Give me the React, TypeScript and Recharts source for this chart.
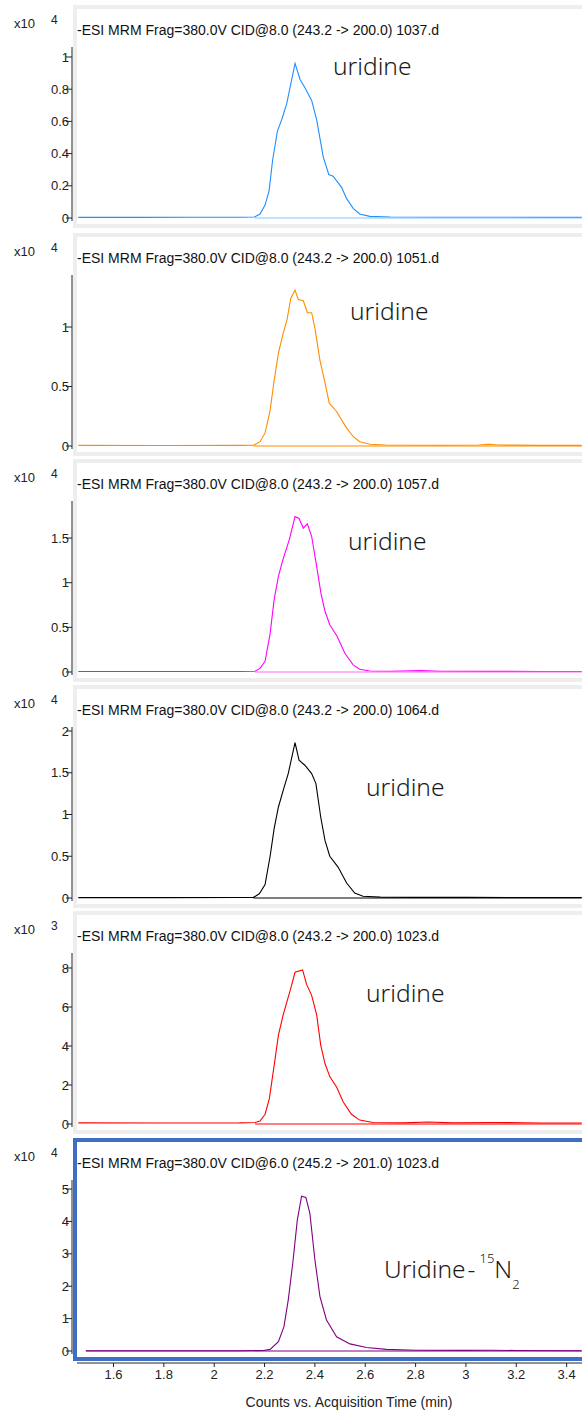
import { Line, LineChart, XAxis, YAxis } from "recharts";

const W = 582;
const FONT = "'Liberation Sans', Arial, sans-serif";

// pixel <-> time mapping of the original: t = 1.6 + (x - 113.5) / 251.7
const T_LEFT = 1.435; // x = 72 (y axis)
const T_AXIS_LEFT = 1.455; // x = 77 (x axis starts here)
const T_RIGHT = 3.461; // x = 582

const TIME_TICKS = [1.6, 1.8, 2, 2.2, 2.4, 2.6, 2.8, 3, 3.2, 3.4];

// [time (min), counts]
const trace1037 = [
  [1.46, 0.004], [1.7, 0.004], [1.9, 0.005], [2.1, 0.005], [2.16, 0.006], [2.182, 0.025],
  [2.202, 0.08], [2.218, 0.17], [2.232, 0.36], [2.251, 0.54], [2.268, 0.61], [2.288, 0.71],
  [2.321, 0.96], [2.341, 0.86], [2.36, 0.81], [2.387, 0.73], [2.407, 0.61], [2.433, 0.38],
  [2.455, 0.27], [2.472, 0.26], [2.506, 0.19], [2.526, 0.12], [2.552, 0.06], [2.578, 0.025],
  [2.618, 0.01], [2.7, 0.006], [2.9, 0.005], [3.1, 0.005], [3.3, 0.004], [3.46, 0.004],
];
const trace1051 = [
  [1.46, 0.005], [1.8, 0.004], [2.1, 0.005], [2.156, 0.006], [2.182, 0.036], [2.202, 0.11],
  [2.222, 0.3], [2.238, 0.55], [2.255, 0.78], [2.272, 0.93], [2.29, 1.07], [2.304, 1.24],
  [2.321, 1.31], [2.334, 1.23], [2.354, 1.22], [2.37, 1.12], [2.387, 1.12], [2.4, 0.99],
  [2.42, 0.72], [2.44, 0.53], [2.457, 0.36], [2.486, 0.29], [2.526, 0.15], [2.552, 0.08],
  [2.578, 0.036], [2.618, 0.015], [2.68, 0.008], [2.9, 0.006], [3.05, 0.008], [3.09, 0.015],
  [3.13, 0.008], [3.3, 0.005], [3.46, 0.005],
];
const trace1057 = [
  [1.46, 0.006], [1.8, 0.005], [2.1, 0.006], [2.162, 0.008], [2.182, 0.04], [2.202, 0.12],
  [2.222, 0.43], [2.238, 0.81], [2.255, 1.07], [2.272, 1.25], [2.298, 1.48], [2.321, 1.74],
  [2.337, 1.72], [2.354, 1.61], [2.37, 1.66], [2.387, 1.52], [2.407, 1.18], [2.424, 0.88],
  [2.44, 0.68], [2.459, 0.53], [2.488, 0.4], [2.519, 0.21], [2.552, 0.08], [2.578, 0.03],
  [2.618, 0.012], [2.7, 0.008], [2.82, 0.015], [2.9, 0.008], [3.1, 0.007], [3.3, 0.006],
  [3.46, 0.006],
];
const trace1064 = [
  [1.46, 0.005], [1.8, 0.005], [2.1, 0.006], [2.156, 0.008], [2.179, 0.05], [2.202, 0.16],
  [2.222, 0.5], [2.238, 0.83], [2.255, 1.09], [2.274, 1.29], [2.294, 1.49], [2.321, 1.86],
  [2.337, 1.65], [2.36, 1.59], [2.387, 1.49], [2.404, 1.37], [2.423, 0.97], [2.44, 0.69],
  [2.459, 0.5], [2.492, 0.37], [2.526, 0.18], [2.558, 0.06], [2.591, 0.02], [2.66, 0.01],
  [2.8, 0.008], [3.0, 0.007], [3.2, 0.006], [3.46, 0.006],
];
const trace1023 = [
  [1.46, 0.06], [1.8, 0.05], [2.1, 0.06], [2.162, 0.08], [2.182, 0.15], [2.202, 0.5],
  [2.219, 1.3], [2.238, 3.0], [2.255, 4.56], [2.274, 5.6], [2.304, 6.96], [2.321, 7.78],
  [2.351, 7.9], [2.367, 7.16], [2.387, 6.6], [2.407, 5.6], [2.423, 4.05], [2.44, 3.1],
  [2.459, 2.43], [2.486, 1.9], [2.512, 1.14], [2.545, 0.5], [2.578, 0.2], [2.63, 0.08],
  [2.75, 0.06], [2.85, 0.1], [2.95, 0.06], [3.1, 0.08], [3.3, 0.05], [3.46, 0.05],
];
const trace1023N15 = [
  [1.49, 0.01], [1.8, 0.01], [2.1, 0.01], [2.195, 0.015], [2.222, 0.05], [2.255, 0.29],
  [2.277, 0.75], [2.294, 1.57], [2.312, 2.71], [2.33, 4.04], [2.347, 4.78], [2.364, 4.74],
  [2.38, 4.25], [2.4, 2.81], [2.42, 1.68], [2.446, 0.96], [2.486, 0.44], [2.539, 0.22],
  [2.605, 0.11], [2.684, 0.05], [2.8, 0.025], [3.0, 0.02], [3.1, 0.025], [3.2, 0.015],
  [3.46, 0.01],
];

// integration baselines
const base1037 = [[2.16, 0], [3.46, 0]];
const base1051 = [[2.156, 0], [3.46, 0]];
const base1057 = [[2.162, 0], [3.46, 0]];
const base1064 = [[2.156, 0], [3.46, 0]];
const base1023 = [[2.162, 0], [3.46, 0]];
const base1023N15 = [[1.49, 0], [3.46, 0]];

const TITLE_U = "-ESI MRM Frag=380.0V CID@8.0 (243.2 -> 200.0) ";

const panels = [
  { top: 5, title: TITLE_U + "1037.d", exp: "4", trace: trace1037, base: base1037, color: "#1e8fff", baseColor: "#86c3ff", ticks: [0, 0.2, 0.4, 0.6, 0.8, 1], max: 1.062, label: "uridine", lx: 333, ly: 66 },
  { top: 233, title: TITLE_U + "1051.d", exp: "4", trace: trace1051, base: base1051, color: "#ff8c00", baseColor: "#ff8c00", ticks: [0, 0.5, 1], max: 1.437, label: "uridine", lx: 350, ly: 311 },
  { top: 459, title: TITLE_U + "1057.d", exp: "4", trace: trace1057, base: base1057, color: "#ff00ff", baseColor: "#ff66ff", ticks: [0, 0.5, 1, 1.5], max: 1.915, label: "uridine", lx: 348, ly: 541 },
  { top: 685, title: TITLE_U + "1064.d", exp: "4", trace: trace1064, base: base1064, color: "#000000", baseColor: "#000000", ticks: [0, 0.5, 1, 1.5, 2], max: 2.048, label: "uridine", lx: 366, ly: 787 },
  { top: 911, title: TITLE_U + "1023.d", exp: "3", trace: trace1023, base: base1023, color: "#ff0000", baseColor: "#ff0000", ticks: [0, 2, 4, 6, 8], max: 8.77, label: "uridine", lx: 366, ly: 993 },
  { top: 1138, title: "-ESI MRM Frag=380.0V CID@6.0 (245.2 -> 201.0) 1023.d", exp: "4", trace: trace1023N15, base: base1023N15, color: "#800080", baseColor: "#800080", ticks: [0, 1, 2, 3, 4, 5], max: 5.28, label: "N15", lx: 384, ly: 1258, frame: "#3f6fc4" },
];

const toPoints = (rows: number[][]) => rows.map(([t, v]) => ({ t, v }));

function Annotation({ p }: { p: any }) {
  const style: React.CSSProperties = {
    position: "absolute",
    left: p.lx,
    top: p.ly - p.top - 17,
    fontFamily: "'Noto Sans', sans-serif",
    fontWeight: 300,
    fontSize: 24.5,
    lineHeight: "34px",
    color: "#1a1a1a",
    whiteSpace: "nowrap",
  };
  if (p.label !== "N15") return <div style={style}>{p.label}</div>;
  return (
    <div style={style}>
      Uridine
      <span style={{ marginLeft: 2 }}>-</span>
      <span style={{ fontSize: 13, verticalAlign: 15, marginLeft: 4 }}>15</span>
      N
      <span style={{ fontSize: 13, verticalAlign: -11 }}>2</span>
    </div>
  );
}

function Panel({ p }: { p: any }) {
  const min = (-p.max * 3) / 171;
  return (
    <div style={{ position: "absolute", left: 0, top: p.top, width: W, height: 224 }}>
      <div
        style={{
          position: "absolute",
          left: 73,
          top: 0,
          width: W,
          height: 223,
          boxSizing: "border-box",
          border: `4px solid ${p.frame || "#eeeeee"}`,
        }}
      />
      <div style={{ position: "absolute", left: 14, top: 12, fontFamily: FONT, fontSize: 13, lineHeight: "14px", color: "#222" }}>x10</div>
      <div style={{ position: "absolute", left: 51, top: 8, fontFamily: FONT, fontSize: 12, lineHeight: "14px", color: "#222" }}>{p.exp}</div>
      <div style={{ position: "absolute", left: 77, top: 17, fontFamily: FONT, fontSize: 14, lineHeight: "16px", color: "#111", whiteSpace: "nowrap" }}>
        {p.title}
      </div>
      <div style={{ position: "absolute", left: 0, top: 0 }}>
        <LineChart width={W} height={226} margin={{ top: 42, right: 0, bottom: 10, left: 0 }}>
          <XAxis type="number" dataKey="t" domain={[T_LEFT, T_RIGHT]} hide allowDataOverflow />
          <YAxis
            type="number"
            domain={[min, p.max]}
            ticks={p.ticks}
            interval={0}
            width={72}
            tickSize={6}
            tickMargin={-3}
            allowDataOverflow
            axisLine={{ stroke: "#222" }}
            tickLine={{ stroke: "#222" }}
            tick={{ fontSize: 13, fill: "#222", fontFamily: FONT }}
            tickFormatter={(v: number) => String(v)}
          />
          <Line data={toPoints(p.trace)} dataKey="v" stroke={p.color} strokeWidth={1.1} dot={false} isAnimationActive={false} />
          <Line data={toPoints(p.base)} dataKey="v" stroke={p.baseColor} strokeWidth={1} dot={false} isAnimationActive={false} />
        </LineChart>
      </div>
      <Annotation p={p} />
    </div>
  );
}

export default function App() {
  return (
    <div style={{ position: "absolute", left: 0, top: 0, width: W, height: 1411, background: "#fff", overflow: "hidden" }}>
      {panels.map((p) => (
        <Panel key={p.title} p={p} />
      ))}
      <div style={{ position: "absolute", left: 0, top: 1355 }}>
        <LineChart width={W} height={56} margin={{ top: 0, right: 0, bottom: 0, left: 77 }}>
          <XAxis
            type="number"
            dataKey="t"
            domain={[T_AXIS_LEFT, T_RIGHT]}
            ticks={TIME_TICKS}
            interval={0}
            height={48}
            tickSize={4}
            tickMargin={3}
            allowDataOverflow
            axisLine={{ stroke: "#222" }}
            tickLine={{ stroke: "#222" }}
            tick={{ fontSize: 13, fill: "#222", fontFamily: FONT }}
            tickFormatter={(v: number) => String(v)}
          />
          <YAxis hide domain={[0, 1]} />
          <Line data={toPoints(base1023N15)} dataKey="v" stroke="none" dot={false} isAnimationActive={false} />
        </LineChart>
      </div>
      <div style={{ position: "absolute", left: 199, width: 300, top: 1394, textAlign: "center", fontFamily: FONT, fontSize: 14, lineHeight: "16px", color: "#222" }}>
        Counts vs. Acquisition Time (min)
      </div>
    </div>
  );
}
